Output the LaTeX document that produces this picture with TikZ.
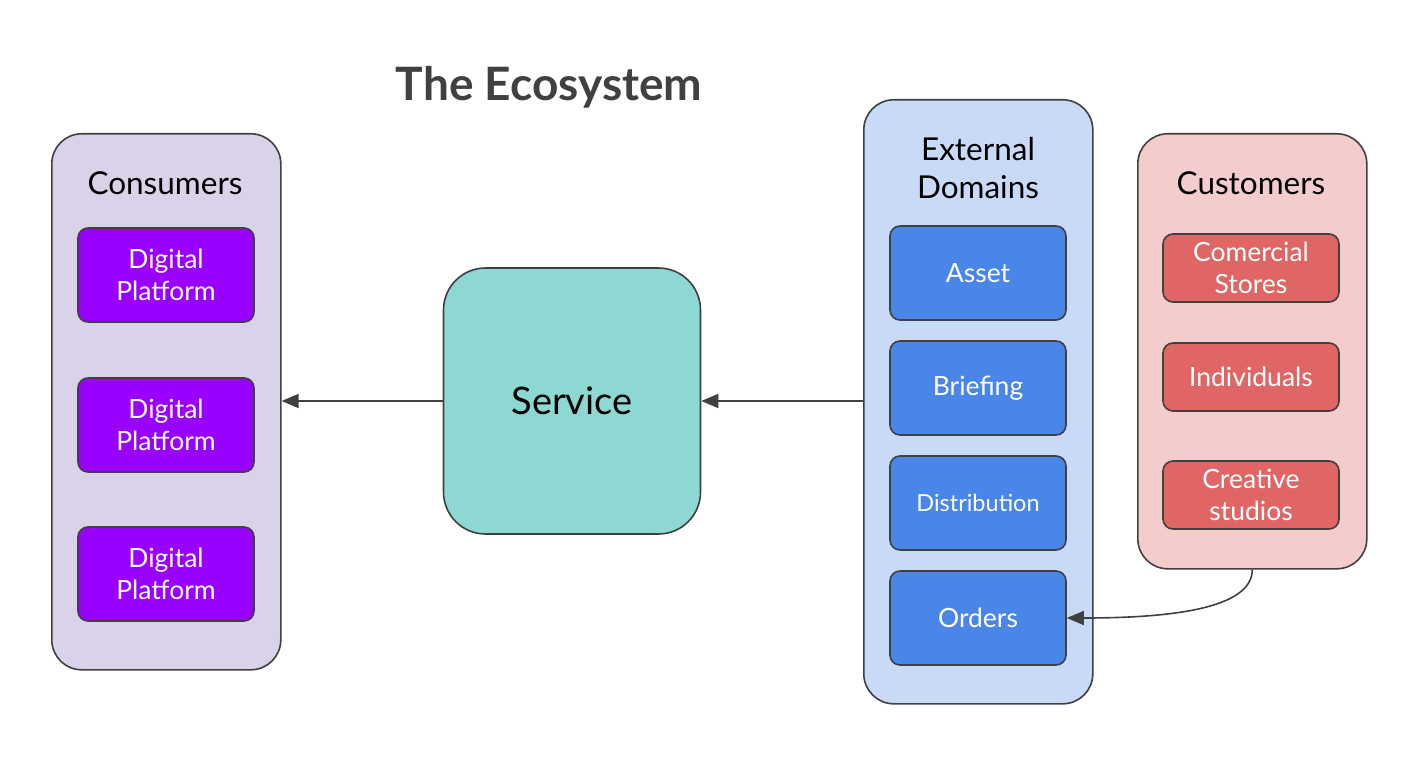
\documentclass[tikz,border=0pt]{standalone}
\usepackage{fontspec}
\setmainfont{Lato}
\usetikzlibrary{positioning,arrows.meta}
\definecolor{edgegray}{HTML}{404040}
\definecolor{consfill}{HTML}{D9D2E9}
\definecolor{platfill}{HTML}{9900FF}
\definecolor{svcfill}{HTML}{8ED8D3}
\definecolor{extfill}{HTML}{C9DAF8}
\definecolor{domfill}{HTML}{4A86E8}
\definecolor{custfill}{HTML}{F4CCCC}
\definecolor{cliefill}{HTML}{E06666}
\tikzset{
	x=1pt, y=-1pt, % one unit is one pixel of the reference
	>={Triangle[length=17pt,width=14pt]}, % filled arrow heads
	group/.style={draw=edgegray, line width=1.6pt, rounded corners=30pt, anchor=north west}, % the big columns
	item/.style={draw=edgegray, line width=1.6pt, rounded corners=10pt, text=white, align=center,
		minimum width=176pt, font=\fontsize{26.5}{32}\selectfont}, % the boxes inside a column
	title/.style={font=\fontsize{31.5}{38}\selectfont, align=center}, % column headings
	link/.style={->, draw=edgegray, line width=1.6pt}, % connectors
}
\begin{document}
\begin{tikzpicture}
	\useasboundingbox (0,0) rectangle (1408,765);

	\node[font=\bfseries\fontsize{46}{52}\selectfont, text=edgegray] (head) at (549,87) {The Ecosystem};

	% consumers
	\node[group, fill=consfill, minimum width=229pt, minimum height=536pt] (cons) at (51,133) {};
	\node[title] (consT) at (165,183) {Consumers};
	\node[item, fill=platfill, minimum height=94pt] (dp1) at (166,275) {Digital\\Platform};
	\node[item, fill=platfill, minimum height=94pt] (dp2) at (166,425) {Digital\\Platform};
	\node[item, fill=platfill, minimum height=94pt] (dp3) at (166,574) {Digital\\Platform};

	% service
	\node[draw=edgegray, line width=1.6pt, rounded corners=42pt, fill=svcfill,
		minimum width=257pt, minimum height=266pt, font=\fontsize{38}{44}\selectfont] (svc) at (572,401) {Service};

	% external domains
	\node[group, fill=extfill, minimum width=229pt, minimum height=604pt] (ext) at (863,99) {};
	\node[title] (extT) at (978,168) {External\\Domains};
	\node[item, fill=domfill, minimum height=94pt] (asset) at (978,273) {Asset};
	\node[item, fill=domfill, minimum height=94pt] (brief) at (978,388) {Briefing};
	\node[item, fill=domfill, minimum height=94pt, font=\fontsize{23.5}{28}\selectfont] (dist) at (978,503) {Distribution};
	\node[item, fill=domfill, minimum height=94pt] (orders) at (978,618) {Orders};

	% customers
	\node[group, fill=custfill, minimum width=229pt, minimum height=435pt] (cust) at (1137,133) {};
	\node[title] (custT) at (1251,183) {Customers};
	\node[item, fill=cliefill, minimum height=68pt] (stores) at (1251,268) {Comercial\\Stores};
	\node[item, fill=cliefill, minimum height=68pt] (indiv) at (1251,377) {Individuals};
	\node[item, fill=cliefill, minimum height=68pt] (studio) at (1251,495) {Creative\\studios};

	\draw[link] (svc.west) -- (cons.east |- svc.west);
	\draw[link] (ext.west |- svc.east) -- (svc.east);
	\draw[link] (cust.south) .. controls +(0,40) and +(100,0) .. (orders.east);
\end{tikzpicture}
\end{document}
